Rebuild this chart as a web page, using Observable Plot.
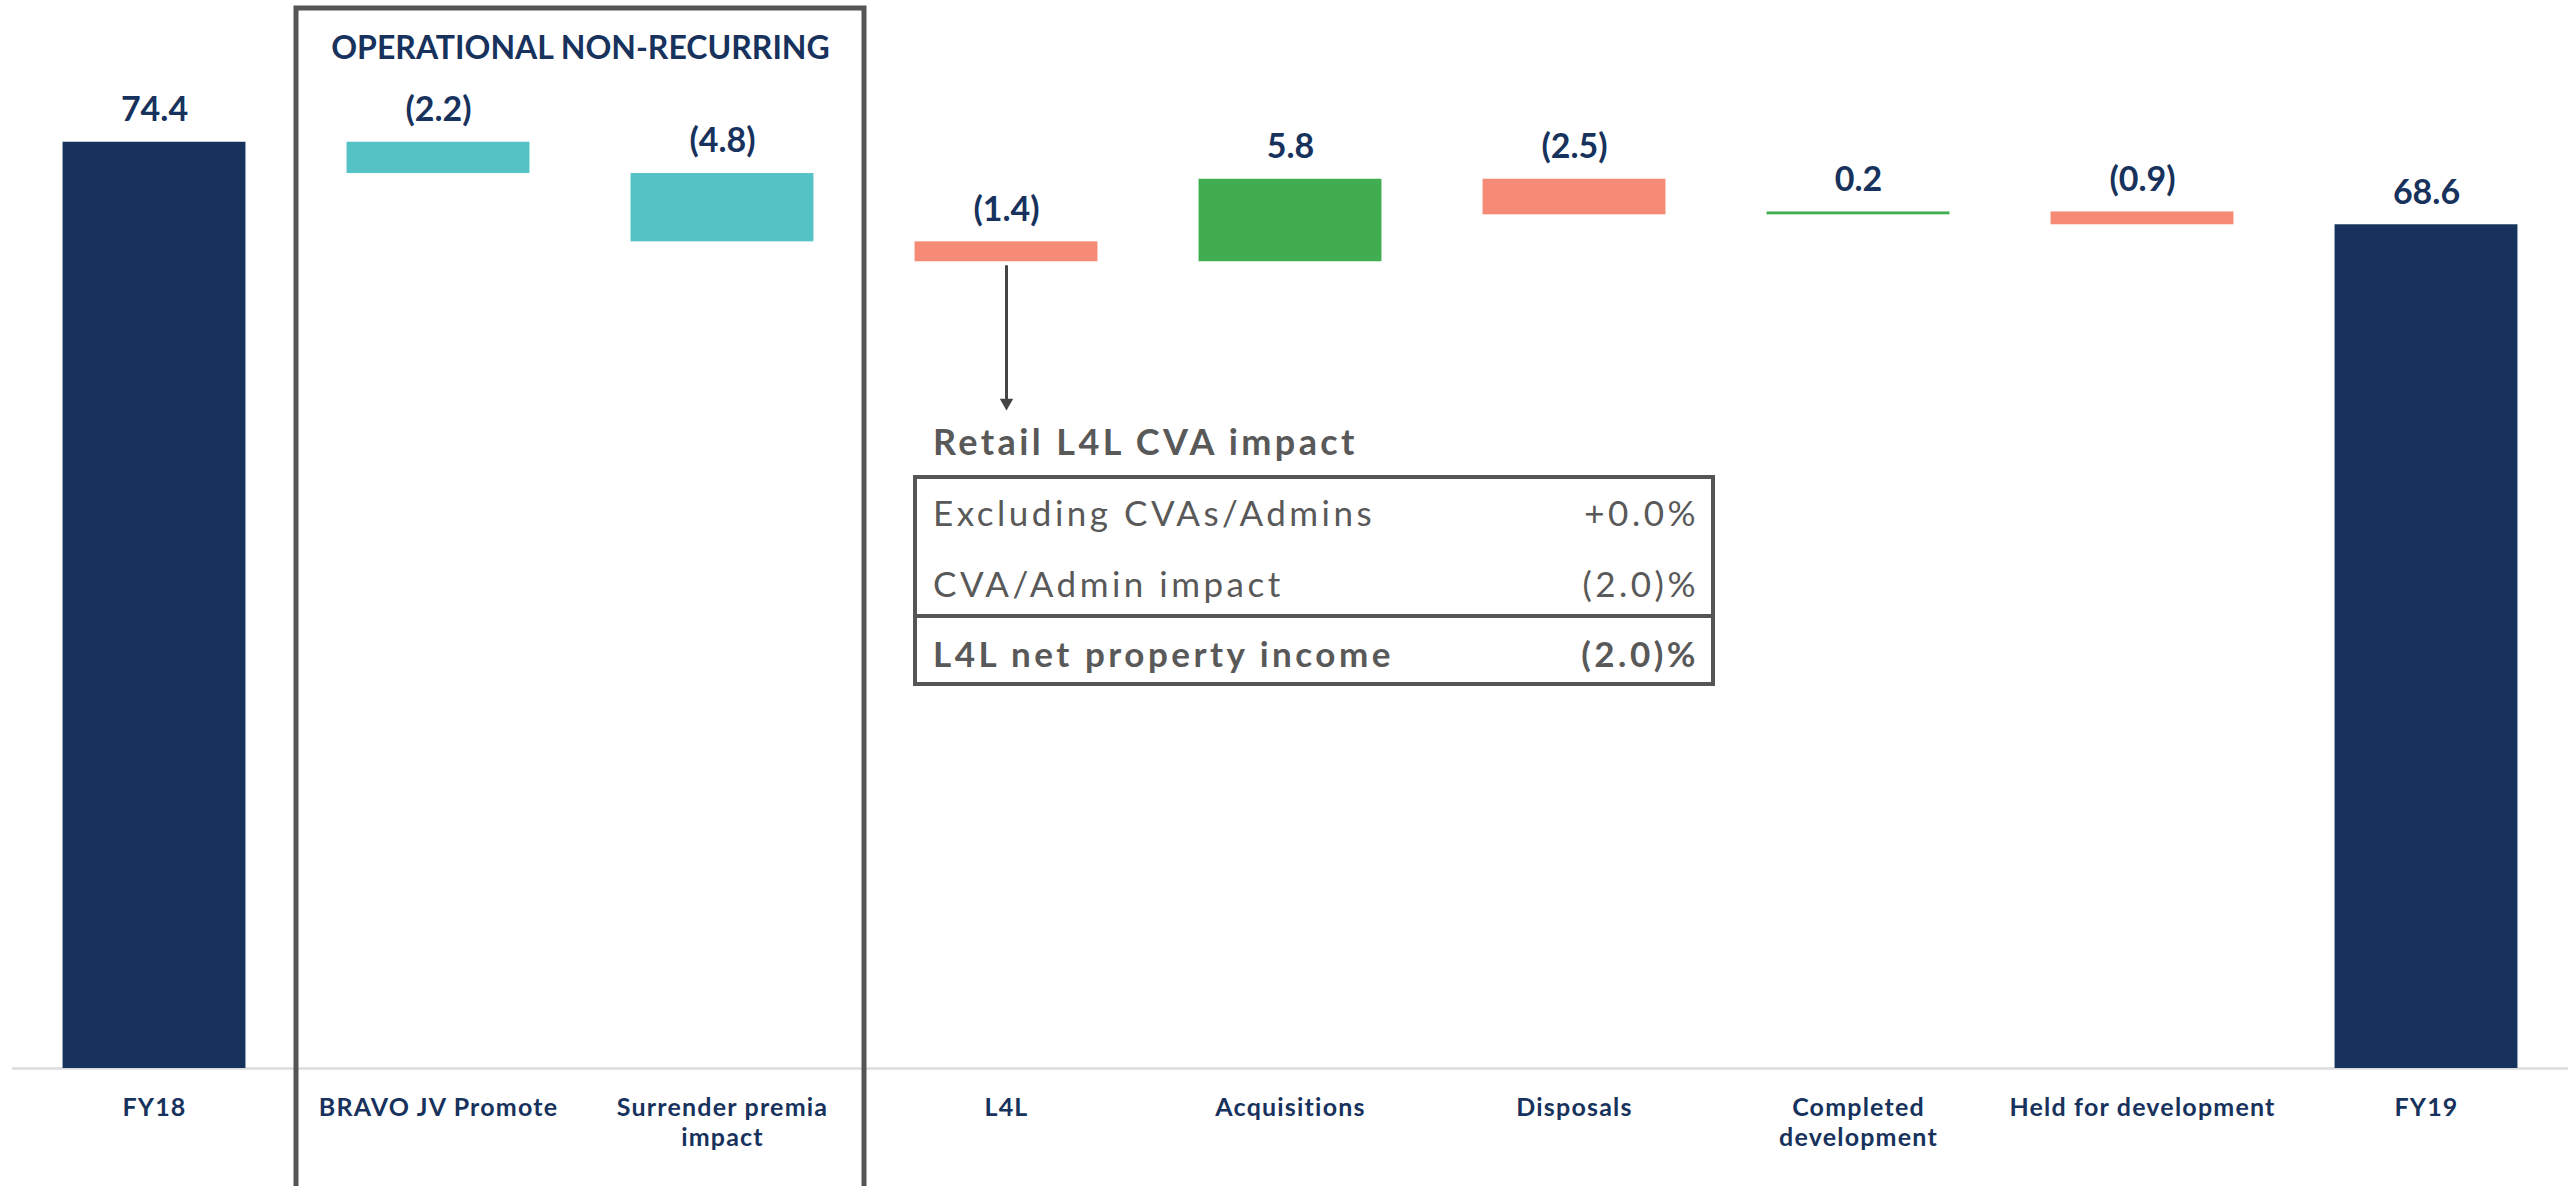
<!DOCTYPE html>
<html>
<head>
<meta charset="utf-8">
<script src="https://cdn.jsdelivr.net/npm/d3@7"></script>
<script src="https://cdn.jsdelivr.net/npm/@observablehq/plot@0.6"></script>
<style>
  html, body { margin: 0; padding: 0; background: #fff; }
  #wrap { position: relative; width: 2568px; height: 1186px; overflow: hidden; font-family: Lato, "Open Sans", sans-serif; }
  #wrap svg { position: absolute; left: 0; top: 0; }
  .note { position: absolute; color: #595959; line-height: 1; white-space: nowrap; letter-spacing: 3.4px; }
  .row { position: absolute; left: 933px; width: 766px; display: flex; justify-content: space-between; color: #595959; line-height: 1; font-size: 35px; letter-spacing: 3.5px; white-space: nowrap; }
  #noteBox { position: absolute; left: 913px; top: 475px; width: 802px; height: 211px; box-sizing: border-box; border: 4px solid #555; }
  #divider { position: absolute; left: 913px; top: 614px; width: 802px; height: 4px; background: #555; }
</style>
</head>
<body>
<div id="wrap"></div>
<script>
// ---- data ----
const categories = ["FY18", "BRAVO JV Promote", "Surrender premia\nimpact", "L4L", "Acquisitions", "Disposals", "Completed\ndevelopment", "Held for development", "FY19"];
const deltas = [74.4, -2.2, -4.8, -1.4, 5.8, -2.5, 0.2, -0.9, 68.6];
const valueLabels = ["74.4", "(2.2)", "(4.8)", "(1.4)", "5.8", "(2.5)", "0.2", "(0.9)", "68.6"];
const kinds = ["total", "nonrec", "nonrec", "neg", "pos", "neg", "pos", "neg", "total"];
const kindNames = ["total", "nonrec", "neg", "pos"];
const kindColors = ["#17325C", "#55C2C5", "#F58B76", "#40AE50"];
const groupTitle = "OPERATIONAL NON-RECURRING";
const groupMembers = ["BRAVO JV Promote", "Surrender premia\nimpact"];
const noteTitle = "Retail L4L CVA impact";
const noteRows = [["Excluding CVAs/Admins", "+0.0%"], ["CVA/Admin impact", "(2.0)%"]];
const noteTotal = ["L4L net property income", "(2.0)%"];

// ---- scales / layout ----
const yDomain = [9.3, 83.8];
const barHalf = 0.322;
const arrowEnd = 55.6;
const navy = "#17325C";

let run = 0;
const rows = categories.map((c, i) => {
  const k = kinds[i];
  let lo, hi;
  if (k === "total") { lo = yDomain[0]; hi = deltas[i]; run = deltas[i]; }
  else { const s = run; run += deltas[i]; lo = Math.min(s, run); hi = Math.max(s, run); }
  return { i, c, lo, hi, label: valueLabels[i], kind: k };
});
const g0 = categories.indexOf(groupMembers[0]);
const g1 = categories.indexOf(groupMembers[1]);
const groupBox = [{ x1: g0 - 0.5, x2: g1 + 0.5, title: groupTitle, xc: (g0 + g1) / 2 }];
const l4l = rows.filter(d => d.c === "L4L");

const chart = Plot.plot({
  width: 2568,
  height: 1186,
  marginLeft: 12,
  marginRight: 0,
  marginTop: 8,
  marginBottom: 118,
  style: { color: navy, fontFamily: "Lato, 'Open Sans', sans-serif", background: "transparent" },
  x: { type: "linear", domain: [-0.5, 8.5], axis: null },
  y: { domain: yDomain, axis: null },
  color: { domain: kindNames, range: kindColors },
  marks: [
    Plot.ruleY([yDomain[0]], { stroke: "#dcdcdc", strokeWidth: 2.5 }),
    Plot.rect(rows, { x1: d => d.i - barHalf, x2: d => d.i + barHalf, y1: "lo", y2: "hi", fill: "kind" }),
    Plot.text(rows, { x: "i", y: "hi", text: "label", dy: -32, fontSize: 34, fontWeight: 700, fill: navy, ariaLabel: "value label" }),
    Plot.axisX(d3.range(categories.length), { tickFormat: i => categories[i], tickSize: 0, tickPadding: 26, fontSize: 25, fontWeight: 700, lineHeight: 1.2, fill: navy }),
    Plot.rect(groupBox, { x1: "x1", x2: "x2", y1: 0, y2: yDomain[1], fill: "none", stroke: "#555", strokeWidth: 5 }),
    Plot.text(groupBox, { x: "xc", frameAnchor: "top", lineAnchor: "middle", text: "title", dy: 40, fontSize: 32, fontWeight: 700, fill: navy, ariaLabel: "group title" }),
    Plot.ruleX(l4l, { x: "i", y1: "lo", y2: arrowEnd, insetTop: 4, insetBottom: 8, stroke: "#444", strokeWidth: 3 }),
    Plot.dot(l4l, { x: "i", y: arrowEnd, symbol: "triangle", r: 5, rotate: 180, fill: "#444", stroke: "none", dy: -7 })
  ]
});

const sel = d3.select(chart);
sel.selectAll('g[aria-label="value label"] text').style("letter-spacing", "2.2px");
sel.selectAll('g[aria-label="x-axis tick label"] text').style("letter-spacing", "1.2px");
sel.selectAll('g[aria-label="group title"] text').style("letter-spacing", "1.1px");

const wrap = document.getElementById("wrap");
wrap.appendChild(chart);

// ---- annotation table ----
function addDiv(cls, id, css, html) {
  const d = document.createElement("div");
  if (cls) d.className = cls;
  if (id) d.id = id;
  Object.assign(d.style, css || {});
  if (html != null) d.textContent = html;
  wrap.appendChild(d);
  return d;
}
const asc = 0.89;
addDiv("note", null, { left: "933px", top: (455 - asc * 36) + "px", fontSize: "36px", fontWeight: "700" }, noteTitle);
addDiv(null, "noteBox");
addDiv(null, "divider");
const baselines = [526, 597];
noteRows.forEach((r, j) => {
  const d = addDiv("row", null, { top: (baselines[j] - asc * 35) + "px" });
  const a = document.createElement("span"); a.textContent = r[0];
  const b = document.createElement("span"); b.textContent = r[1];
  d.append(a, b);
});
const t = addDiv("row", null, { top: (667 - asc * 35) + "px", fontWeight: "700" });
const ta = document.createElement("span"); ta.textContent = noteTotal[0];
const tb = document.createElement("span"); tb.textContent = noteTotal[1];
t.append(ta, tb);
</script>
</body>
</html>
